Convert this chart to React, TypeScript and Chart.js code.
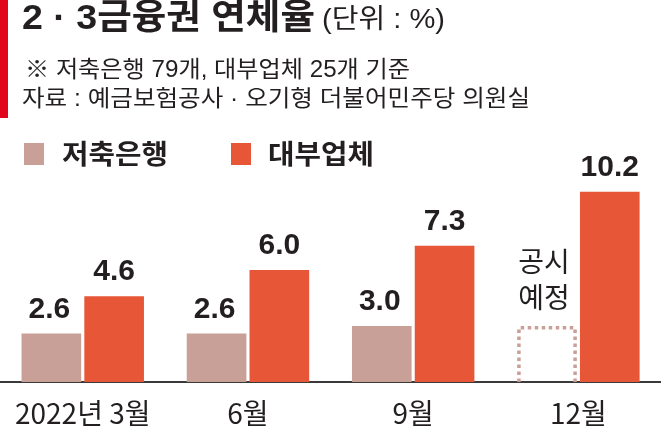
import React, { useEffect, useRef } from 'react';
import { Chart, registerables } from 'chart.js';

Chart.register(...registerables);

// ---- data ----
const categories = ['2022년 3월', '6월', '9월', '12월'];
const savingsBank: (number | null)[] = [2.6, 2.6, 3.0, null];
const lendingCo: number[] = [4.6, 6.0, 7.3, 10.2];
const pendingPlaceholder: (number | null)[] = [null, null, null, 3.0];
const seriesNames = ['저축은행', '대부업체'];
const titleText = '2 · 3금융권 연체율';
const unitText = '(단위 : %)';
const noteText = '※ 저축은행 79개, 대부업체 25개 기준';
const sourceText = '자료 : 예금보험공사 · 오기형 더불어민주당 의원실';
const pendingText = ['공시', '예정'];

// ---- style ----
const TEXT = '#231f20';
const SAVINGS_COLOR = '#c9a098';
const LENDING_COLOR = '#e75636';
const ACCENT = '#e2061c';
const FONT = '"Liberation Sans", "Noto Sans CJK KR", sans-serif';
const KFONT = '"Noto Sans CJK KR", sans-serif';

function fitText(ctx: CanvasRenderingContext2D, text: string, x: number, y: number, width: number) {
  const m = ctx.measureText(text).width;
  ctx.save();
  ctx.translate(x, y);
  ctx.scale(width / m, 1);
  ctx.fillText(text, 0, 0);
  ctx.restore();
}

const decorPlugin = {
  id: 'decor',
  afterDatasetsDraw(chart: any) {
    const ctx = chart.ctx as CanvasRenderingContext2D;
    ctx.save();
    ctx.fillStyle = TEXT;
    ctx.textAlign = 'center';
    ctx.textBaseline = 'alphabetic';
    ctx.font = `bold 30px ${FONT}`;
    const m0 = chart.getDatasetMeta(0);
    const m1 = chart.getDatasetMeta(1);
    m0.data.forEach((el: any, i: number) => {
      const v = savingsBank[i];
      if (v !== null) {
        ctx.fillText(v.toFixed(1), el.x - 2, el.y - 16);
      } else if (pendingPlaceholder[i] !== null) {
        const left = el.x - el.width / 2;
        const right = el.x + el.width / 2;
        ctx.save();
        ctx.strokeStyle = SAVINGS_COLOR;
        ctx.lineWidth = 3.5;
        ctx.setLineDash([3.5, 3.5]);
        ctx.beginPath();
        ctx.moveTo(left + 1.75, el.base);
        ctx.lineTo(left + 1.75, el.y + 1.75);
        ctx.lineTo(right - 1.75, el.y + 1.75);
        ctx.lineTo(right - 1.75, el.base);
        ctx.stroke();
        ctx.restore();
        ctx.save();
        ctx.fillStyle = TEXT;
        ctx.textAlign = 'center';
        ctx.textBaseline = 'middle';
        ctx.font = `28px ${KFONT}`;
        ctx.fillText(pendingText[0], el.x - 3, el.y - 65);
        ctx.fillText(pendingText[1], el.x - 3, el.y - 29);
        ctx.restore();
      }
    });
    ctx.font = `bold 30px ${FONT}`;
    m1.data.forEach((el: any, i: number) => {
      ctx.fillText(lendingCo[i].toFixed(1), el.x, el.y - 16);
    });
    ctx.restore();
  },
  afterDraw(chart: any) {
    const ctx = chart.ctx as CanvasRenderingContext2D;
    ctx.save();
    ctx.fillStyle = ACCENT;
    ctx.fillRect(0, 0, 8, 118);
    ctx.fillStyle = TEXT;
    ctx.textAlign = 'left';
    ctx.textBaseline = 'middle';
    ctx.font = `bold 35px ${FONT}`;
    fitText(ctx, titleText, 22, 19, 293);
    ctx.font = `27px ${FONT}`;
    fitText(ctx, unitText, 322, 21, 123);
    ctx.font = `23px ${FONT}`;
    fitText(ctx, noteText, 25, 71, 385);
    fitText(ctx, sourceText, 22, 100, 508);
    const colors = [SAVINGS_COLOR, LENDING_COLOR];
    const lx = [24, 231];
    const tx = [62, 268];
    ctx.font = `bold 27px ${KFONT}`;
    seriesNames.forEach((name, i) => {
      ctx.fillStyle = colors[i];
      ctx.fillRect(lx[i], 143, 20, 22);
      ctx.fillStyle = TEXT;
      fitText(ctx, name, tx[i], 154, 106);
    });
    ctx.restore();
  },
};

export default function App() {
  const ref = useRef<HTMLCanvasElement>(null);
  useEffect(() => {
    if (!ref.current) return;
    const chart = new Chart(ref.current, {
      type: 'bar',
      data: {
        labels: categories,
        datasets: [
          {
            label: seriesNames[0],
            data: savingsBank.map((v, i) => (v !== null ? v : pendingPlaceholder[i])),
            backgroundColor: savingsBank.map((v) => (v !== null ? SAVINGS_COLOR : 'rgba(0,0,0,0)')),
            borderWidth: 0,
            barPercentage: 0.95,
            categoryPercentage: 0.76,
          },
          {
            label: seriesNames[1],
            data: lendingCo,
            backgroundColor: LENDING_COLOR,
            borderWidth: 0,
            barPercentage: 0.95,
            categoryPercentage: 0.76,
          },
        ],
      },
      options: {
        responsive: false,
        animation: false,
        devicePixelRatio: 1,
        layout: { padding: { top: 150, left: 0, right: 0, bottom: 0 } },
        plugins: {
          legend: { display: false },
          tooltip: { enabled: false },
          title: { display: false },
        },
        scales: {
          x: {
            grid: { display: false, drawTicks: false },
            border: { display: true, color: '#3a3a3a', width: 2 },
            ticks: {
              color: TEXT,
              font: { size: 28, family: KFONT },
              padding: 15,
              maxRotation: 0,
              autoSkip: false,
            },
            afterFit: (s: any) => {
              s.height = 49;
            },
          },
          y: { display: false, min: 0, max: 12.44 },
        },
      },
      plugins: [decorPlugin],
    } as any);
    return () => chart.destroy();
  }, []);
  return (
    <div style={{ position: 'fixed', left: 0, top: 0, width: 661, height: 431, background: '#fff' }}>
      <canvas ref={ref} width={661} height={431} style={{ display: 'block' }} />
    </div>
  );
}
